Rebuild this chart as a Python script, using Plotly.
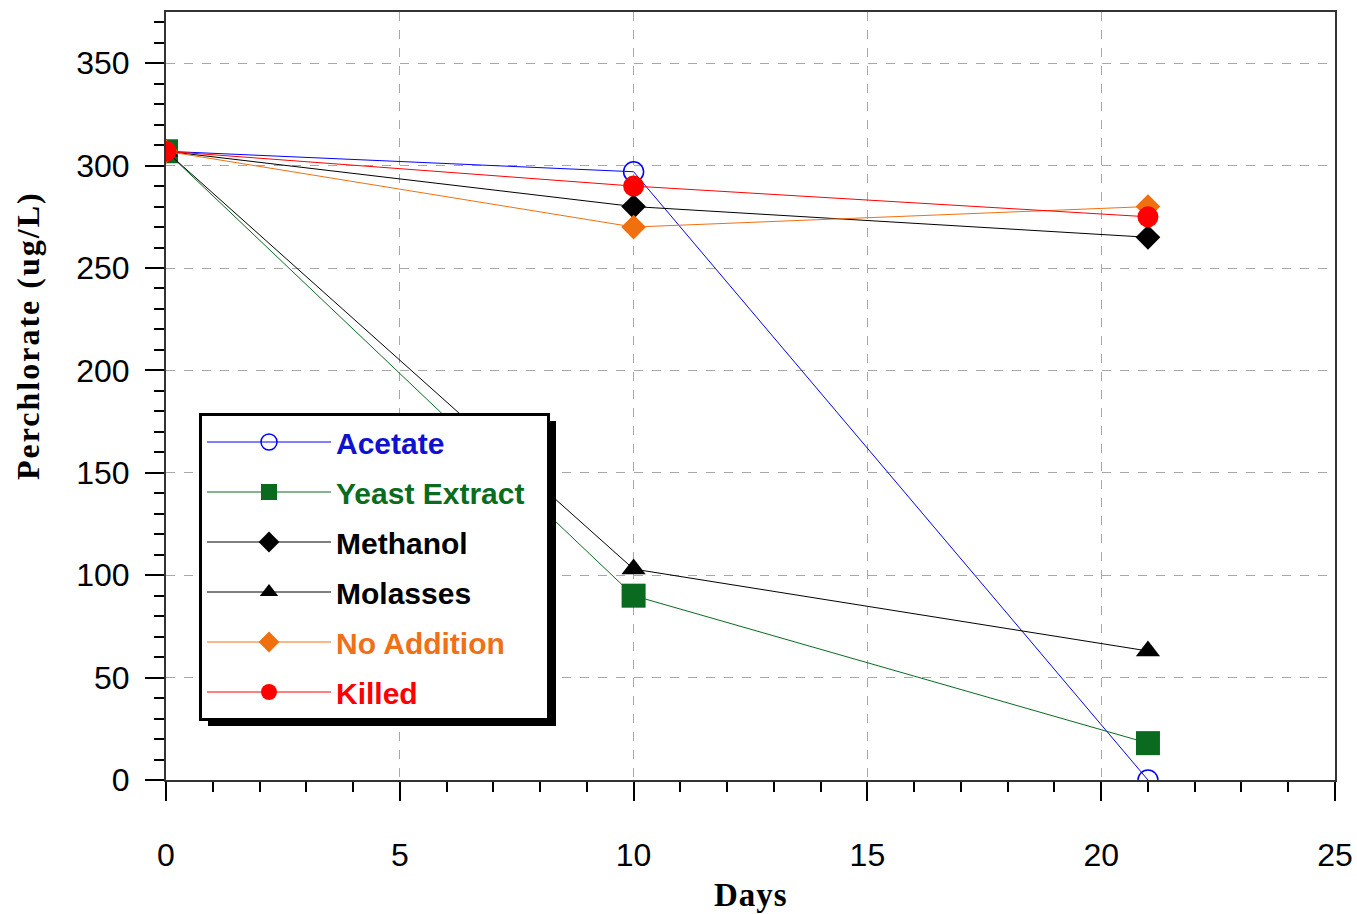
import plotly.graph_objects as go

days = [0, 10, 21]
series_names = ["Acetate", "Yeast Extract", "Methanol", "Molasses", "No Addition", "Killed"]
acetate = [307, 297, 0]
yeast_extract = [307, 90, 18]
methanol = [307, 280, 265]
molasses = [307, 103, 63]
no_addition = [307, 270, 280]
killed = [307, 290, 275]
values = [acetate, yeast_extract, methanol, molasses, no_addition, killed]

line_colors = ["#0000FF", "#0A6A20", "#000000", "#000000", "#F07010", "#FF0000"]
text_colors = ["#1010D0", "#0B6B1E", "#000000", "#000000", "#F07018", "#FF0000"]
symbols = ["circle-open", "square", "diamond", "triangle-up", "diamond", "circle"]
sizes = [20, 24, 19, 21, 19, 21]
x_ticks = [0, 5, 10, 15, 20, 25]
y_ticks = [0, 50, 100, 150, 200, 250, 300, 350]

fig = go.Figure()
for name, vals, lc, tc, sym, sz in zip(series_names, values, line_colors, text_colors, symbols, sizes):
    fig.add_trace(go.Scatter(
        x=days, y=vals, mode="lines+markers",
        # trailing non-breaking spaces widen the legend box to the reference width
        name=f"<span style='color:{tc}'><b>{name}</b></span>&nbsp;&nbsp;",
        legendgroup=name,
        line=dict(color=lc, width=1),
        marker=dict(symbol=sym, size=sz, color=lc,
                    line=dict(color=lc, width=1.5 if sym == "circle-open" else 0)),
    ))

W, H = 1357, 914
ml, mr, mt, mb = 166, 22, 12, 134
pw, ph = W - ml - mr, H - mt - mb

axis_common = dict(
    showline=True, linecolor="#333333", linewidth=2, mirror=True,
    ticks="outside", ticklen=19, tickwidth=1.5, tickcolor="#000000",
    showgrid=True, gridcolor="#A8A8A8", griddash="dash", gridwidth=1,
    zeroline=False, automargin=False,
    tickfont=dict(family="Liberation Sans, Arial", size=32, color="#000000"),
)

fig.update_layout(
    width=W, height=H,
    margin=dict(l=ml, r=mr, t=mt, b=mb, autoexpand=False),
    paper_bgcolor="white", plot_bgcolor="white",
    showlegend=True,
    legend=dict(
        x=(199 - ml) / pw, y=(780 - 413) / ph, xanchor="left", yanchor="top",
        bgcolor="white", bordercolor="#000000", borderwidth=3,
        font=dict(family="Liberation Sans, Arial", size=30, color="#000000"),
        tracegroupgap=8, itemwidth=124,
    ),
    xaxis=dict(range=[0, 25], tickvals=x_ticks, ticklabelstandoff=27,
               minor=dict(dtick=1, ticklen=10, tickwidth=1.5, tickcolor="#000000", ticks="outside", showgrid=False),
               **axis_common),
    yaxis=dict(range=[0, 375], tickvals=y_ticks, ticklabelstandoff=9,
               minor=dict(dtick=10, ticklen=10, tickwidth=1.5, tickcolor="#000000", ticks="outside", showgrid=False),
               **axis_common),
    annotations=[
        dict(text="<span style='letter-spacing:1px'><b>Days</b></span>", xref="paper", yref="paper",
             x=0.5, y=(780 - 895) / ph,
             showarrow=False, xanchor="center", yanchor="middle",
             font=dict(family="Liberation Serif, Times New Roman", size=33, color="#000000")),
        dict(text="<span style='letter-spacing:2px'><b>Perchlorate (ug/L)</b></span>", xref="paper", yref="paper",
             x=(28 - ml) / pw, y=(780 - 336) / ph,
             showarrow=False, xanchor="center", yanchor="middle", textangle=-90,
             font=dict(family="Liberation Serif, Times New Roman", size=32, color="#000000")),
    ],
    shapes=[
        dict(type="rect", xref="paper", yref="paper", layer="above",
             x0=(208 - ml) / pw, x1=(556 - ml) / pw, y0=(780 - 726) / ph, y1=(780 - 421) / ph,
             fillcolor="#000000", line=dict(width=0)),
    ],
)

fig.write_html("out.html")
